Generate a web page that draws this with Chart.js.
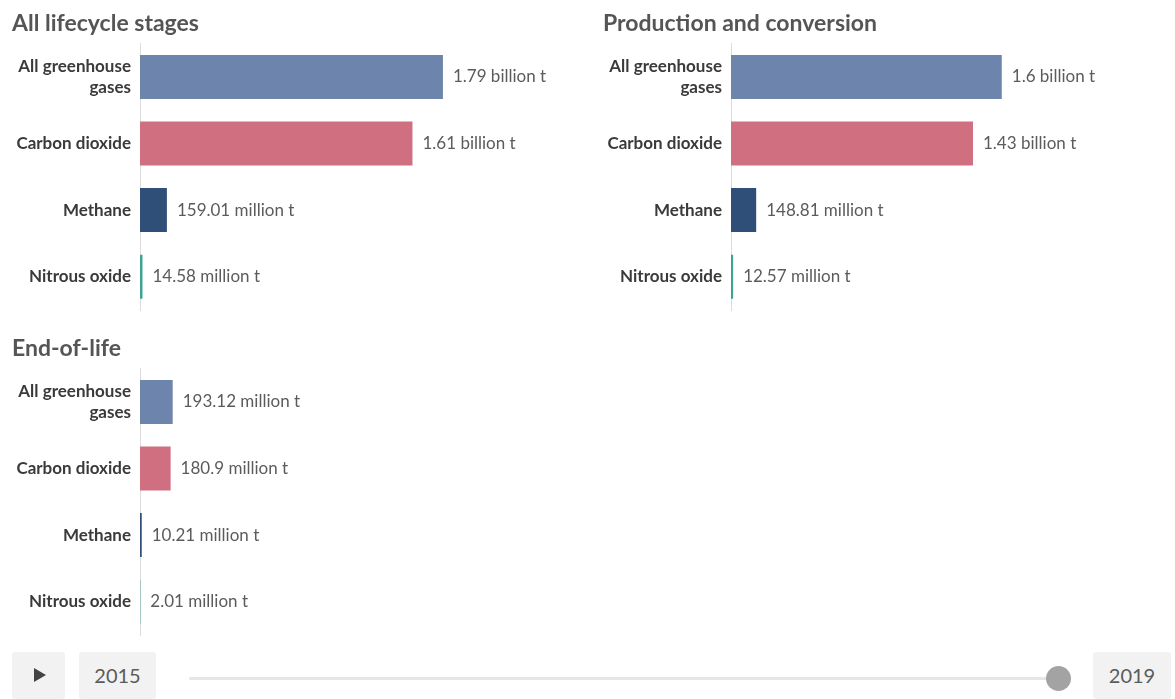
<!DOCTYPE html>
<html>
<head>
<meta charset="utf-8">
<script src="https://cdn.jsdelivr.net/npm/chart.js@4"></script>
<style>
    body { margin: 0; background: #fff; font-family: Lato, "Noto Sans", sans-serif; }
    .panel { position: absolute; width: 580px; height: 313px; }
    .controls { position: absolute; left: 0; top: 652px; width: 1175px; height: 47px; }
    .btn { position: absolute; top: 0; height: 47px; background: #f2f2f2; border-radius: 3px; color: #5b5b5b; font-size: 20px; line-height: 47px; text-align: center; }
    .play { left: 12px; width: 53px; }
    .play:after { content: ""; position: absolute; left: 22px; top: 16px; border-left: 12px solid #444; border-top: 7px solid transparent; border-bottom: 7px solid transparent; }
    .track { position: absolute; left: 189px; top: 25px; width: 858px; height: 3px; background: #e6e6e6; border-radius: 2px; }
    .knob { position: absolute; left: 1046px; top: 14px; width: 25px; height: 25px; border-radius: 50%; background: #a3a3a3; }
</style>
</head>
<body>
<div class="panel" style="left:0;top:0"><canvas id="allStages" width="580" height="313"></canvas></div>
<div class="panel" style="left:591px;top:0"><canvas id="production" width="580" height="313"></canvas></div>
<div class="panel" style="left:0;top:325px"><canvas id="endOfLife" width="580" height="313"></canvas></div>

<div class="controls">
    <div class="btn play"></div>
    <div class="btn" id="startYear" style="left:79px;width:77px"></div>
    <div class="track"></div>
    <div class="knob"></div>
    <div class="btn" id="endYear" style="left:1093px;width:78px"></div>
</div>

<script>
// Gases shown in every panel
const gases = [['All greenhouse', 'gases'], 'Carbon dioxide', 'Methane', 'Nitrous oxide'];
const gasColors = ['#6d84ac', '#cf6f7f', '#2f4f78', '#3fa394'];

// Emissions in tonnes
const allStages = [1.79e9, 1.61e9, 159.01e6, 14.58e6];
const production = [1.6e9, 1.43e9, 148.81e6, 12.57e6];
const endOfLife = [193.12e6, 180.9e6, 10.21e6, 2.01e6];

const panelTitles = ['All lifecycle stages', 'Production and conversion', 'End-of-life'];
const years = ['2015', '2019'];

// shared x range so bars can be compared across panels
const xMax = 2.6e9;

document.getElementById('startYear').textContent = years[0];
document.getElementById('endYear').textContent = years[1];

function formatTonnes(v) {
    if (v >= 1e9) {
        return parseFloat((v / 1e9).toFixed(2)) + ' billion t';
    }
    return parseFloat((v / 1e6).toFixed(2)) + ' million t';
}

// Draw the value next to the end of each bar
const valueLabels = {
    id: 'valueLabels',
    afterDatasetsDraw(chart) {
        const ctx = chart.ctx;
        const values = chart.data.datasets[0].data;
        ctx.save();
        ctx.font = '17px Lato';
        ctx.fillStyle = '#5b5b5b';
        ctx.textBaseline = 'middle';
        chart.getDatasetMeta(0).data.forEach((bar, i) => {
            ctx.fillText(formatTonnes(values[i]), bar.x + 10, bar.y);
        });
        ctx.restore();
    }
};

function makePanel(id, title, values) {
    const ctx = document.getElementById(id).getContext('2d');
    return new Chart(ctx, {
        type: 'bar',
        data: {
            labels: gases,
            datasets: [{
                data: values,
                backgroundColor: gasColors,
                categoryPercentage: 1,
                barPercentage: 0.66
            }]
        },
        options: {
            indexAxis: 'y',
            responsive: false,
            animation: false,
            layout: {
                padding: { left: 12, right: 0, top: 0, bottom: 3 }
            },
            plugins: {
                legend: { display: false },
                tooltip: { enabled: false },
                title: {
                    display: true,
                    text: title,
                    align: 'start',
                    color: '#555',
                    font: { family: 'Lato', size: 23, weight: 'bold' },
                    padding: { top: 10, bottom: 6 }
                }
            },
            scales: {
                x: {
                    display: false,
                    min: 0,
                    max: xMax
                },
                y: {
                    afterFit: function (scale) {
                        scale.width = 128;
                        // the two-line label would otherwise push the plot up
                        scale.paddingTop = 0;
                        scale.paddingBottom = 0;
                    },
                    grid: { display: false, drawTicks: false },
                    border: { display: true, color: '#dcdcdc', width: 1 },
                    ticks: {
                        padding: 9,
                        color: '#3a3a3a',
                        font: { family: 'Lato', size: 17, weight: 'bold', lineHeight: 1.25 }
                    }
                }
            }
        },
        plugins: [valueLabels]
    });
}

makePanel('allStages', panelTitles[0], allStages);
makePanel('production', panelTitles[1], production);
makePanel('endOfLife', panelTitles[2], endOfLife);
</script>
</body>
</html>
